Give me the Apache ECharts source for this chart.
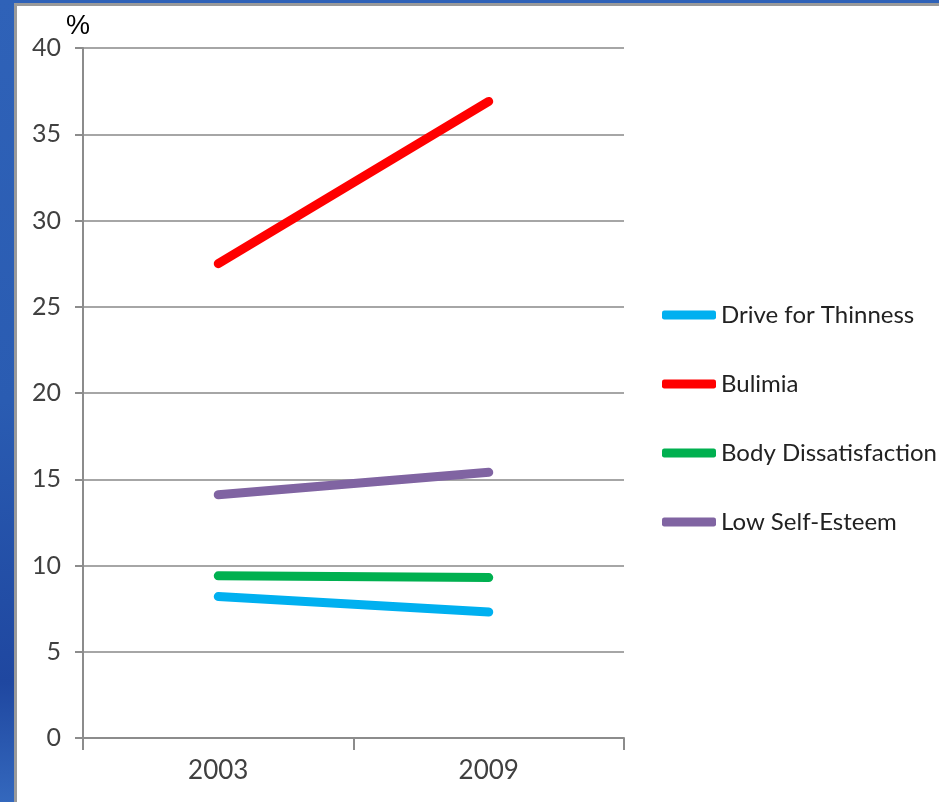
<!DOCTYPE html>
<html>
<head>
<meta charset="utf-8">
<script src="https://cdn.jsdelivr.net/npm/echarts@6/dist/echarts.min.js"></script>
<style>
  html, body { margin: 0; padding: 0; background: #ffffff; }
  #chart { width: 939px; height: 802px; }
</style>
</head>
<body>
<div id="chart"></div>
<script>
// Survey years on the x axis
const years = ['2003', '2009'];

// Percentages per measure
const driveForThinness = [8.2, 7.3];
const bulimia = [27.5, 36.9];
const bodyDissatisfaction = [9.4, 9.3];
const lowSelfEsteem = [14.1, 15.4];

// Series names, in legend order
const seriesNames = ['Drive for Thinness', 'Bulimia', 'Body Dissatisfaction', 'Low Self-Esteem'];
const seriesValues = [driveForThinness, bulimia, bodyDissatisfaction, lowSelfEsteem];
const seriesColors = ['#00b0f0', '#ff0000', '#00b050', '#8064a2'];

const labelFont = 'Lato, "Open Sans", sans-serif';

const chart = echarts.init(document.getElementById('chart'), null, { renderer: 'canvas' });

chart.setOption({
  backgroundColor: '#ffffff',
  animation: false,
  graphic: [
    // slide frame: blue strip on the left and on top with a grey edge
    { type: 'rect', left: 0, top: 0, shape: { width: 15, height: 802 },
      style: { fill: new echarts.graphic.LinearGradient(0, 0, 0, 1, [
        { offset: 0, color: '#2f62b8' }, { offset: 0.5, color: '#2a5cb2' },
        { offset: 0.85, color: '#1f47a0' }, { offset: 1, color: '#3468bd' }]) } },
    { type: 'rect', left: 14, top: 5, shape: { width: 3, height: 797 }, style: { fill: '#9a9a9a' } },
    { type: 'rect', left: 0, top: 0, shape: { width: 939, height: 4 }, style: { fill: '#2f62b8' } },
    { type: 'rect', left: 14, top: 3, shape: { width: 925, height: 3 }, style: { fill: '#9a9a9a' } },
    // unit label above the value axis
    { type: 'text', left: 66, top: 13,
      style: { text: '%', font: '27px "Liberation Sans", Arial, sans-serif', fill: '#000000' } }
  ],
  grid: { left: 83, right: 315, top: 48, bottom: 64, containLabel: false },
  legend: {
    orient: 'vertical',
    left: 657,
    top: 295,
    icon: 'roundRect',
    itemWidth: 54,
    itemHeight: 9,
    itemGap: 39,
    data: seriesNames,
    textStyle: { fontFamily: labelFont, fontSize: 24, lineHeight: 30, color: '#222222' }
  },
  xAxis: {
    type: 'category',
    data: years,
    boundaryGap: true,
    axisLine: { lineStyle: { color: '#8c8c8c', width: 2 } },
    axisTick: { show: true, length: 12, alignWithLabel: false, lineStyle: { color: '#8c8c8c', width: 2 } },
    axisLabel: { margin: 20, fontFamily: labelFont, fontSize: 26, color: '#404040' },
    splitLine: { show: false }
  },
  yAxis: {
    type: 'value',
    min: 0,
    max: 40,
    interval: 5,
    axisLine: { show: true, lineStyle: { color: '#8c8c8c', width: 2 } },
    axisTick: { show: true, length: 8, lineStyle: { color: '#8c8c8c', width: 2 } },
    axisLabel: { margin: 22, fontFamily: labelFont, fontSize: 25, color: '#404040' },
    splitLine: { show: true, lineStyle: { color: '#a6a6a6', width: 2 } }
  },
  series: seriesNames.map((name, i) => ({
    name: name,
    type: 'line',
    data: seriesValues[i],
    showSymbol: false,
    symbol: 'none',
    color: seriesColors[i],
    lineStyle: { width: 9, color: seriesColors[i], cap: 'round' },
    itemStyle: { color: seriesColors[i] }
  }))
});
</script>
</body>
</html>
